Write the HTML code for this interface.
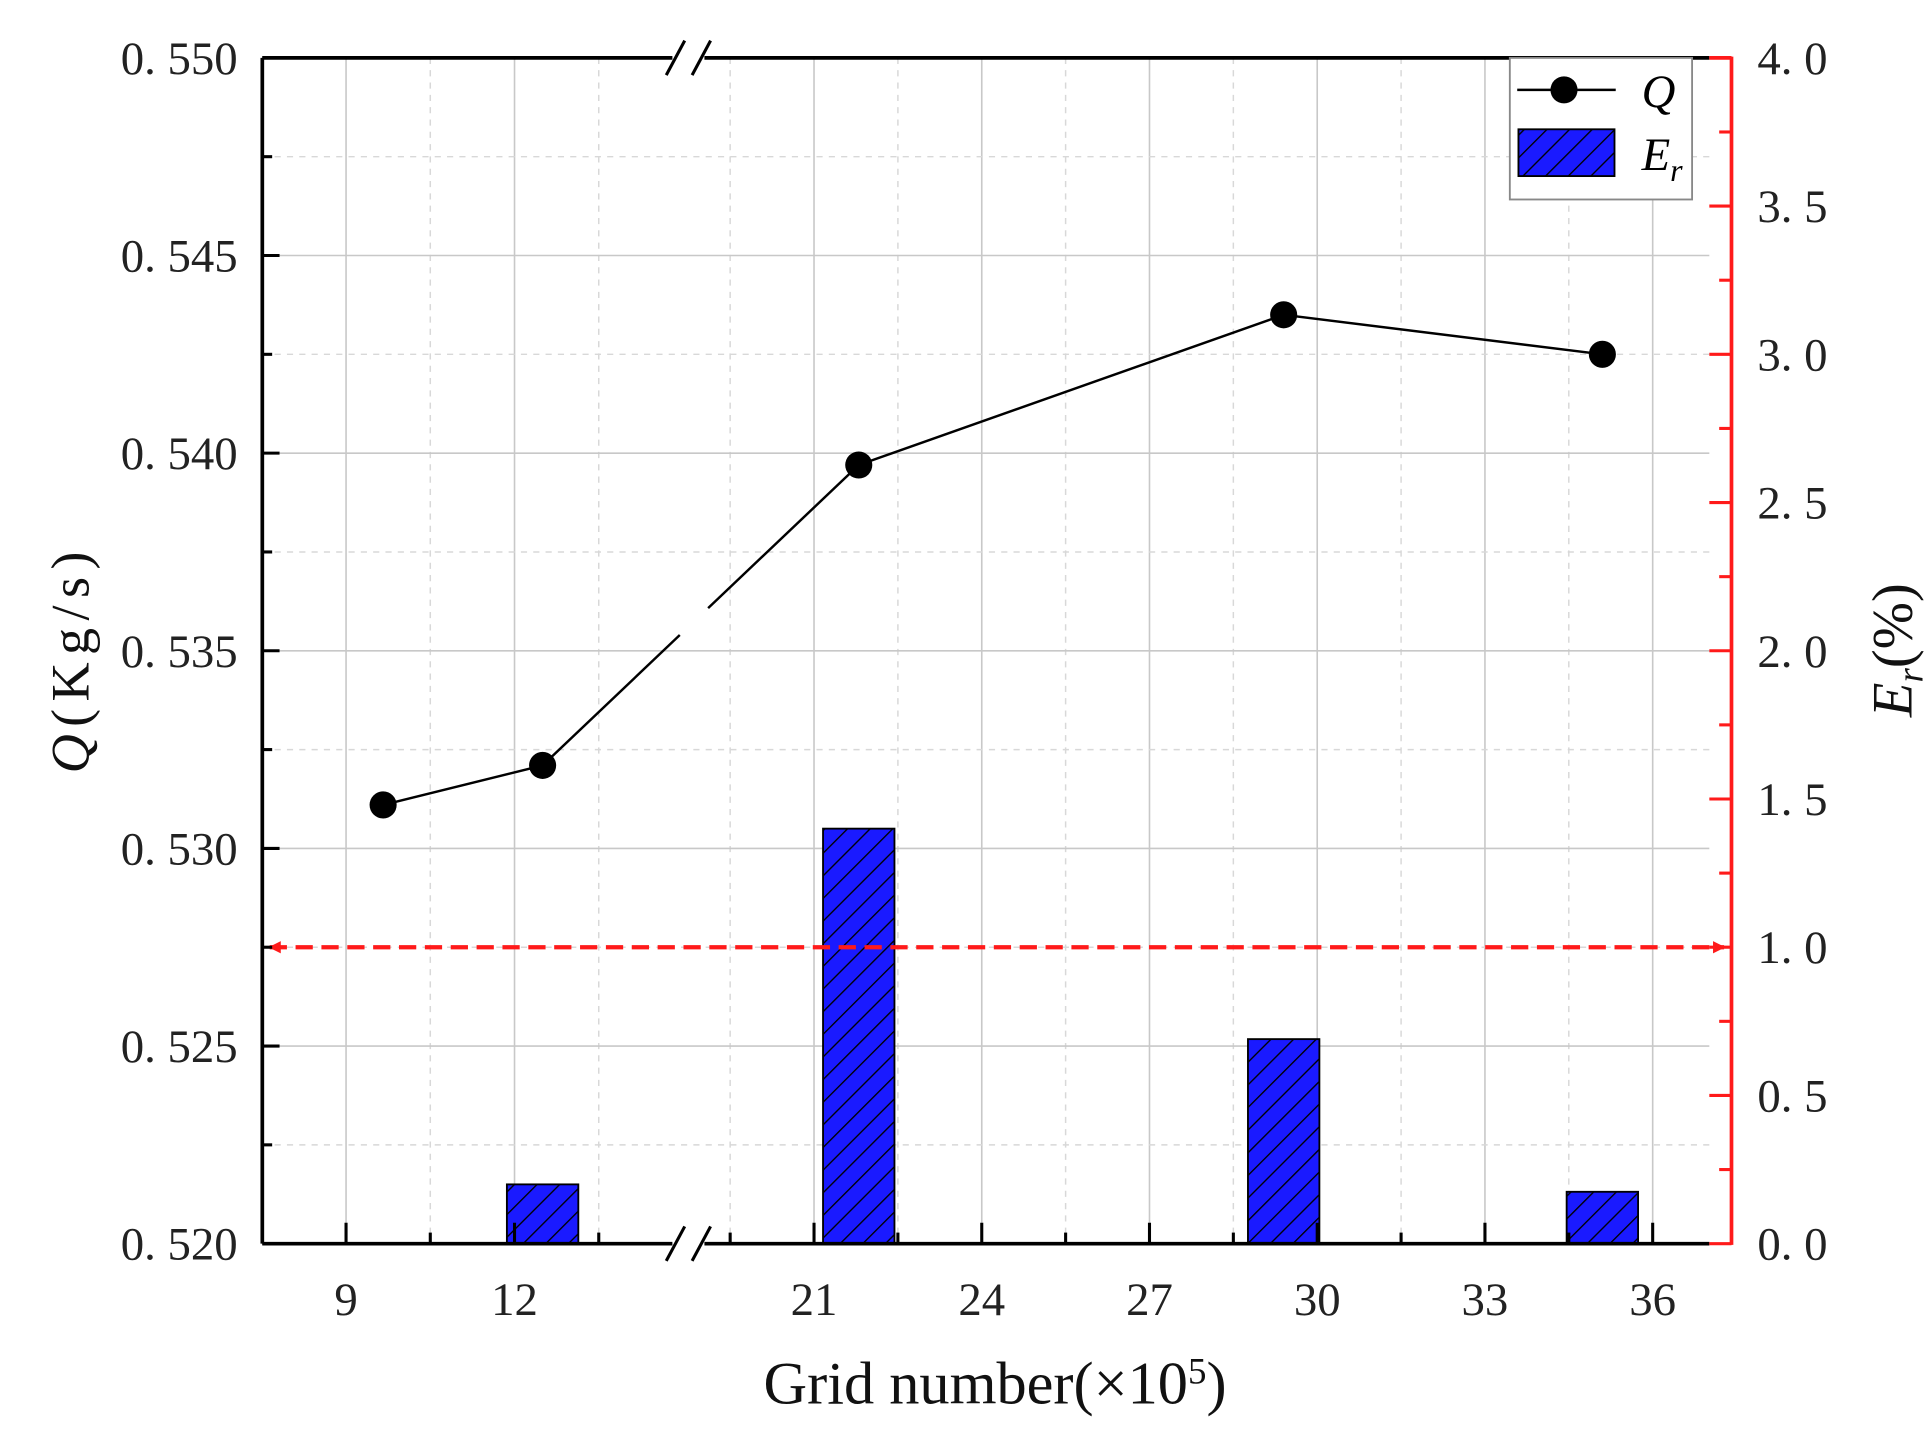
<!DOCTYPE html>
<html><head><meta charset="utf-8"><style>
html,body{margin:0;padding:0;background:#fff;}
body{position:relative;width:1931px;height:1453px;overflow:hidden;}
svg{display:block;}
text{font-family:"Liberation Serif","Noto Serif CJK SC",serif;}
</style></head><body>
<svg id="chart" width="1931" height="1453" viewBox="0 0 1568 1180" preserveAspectRatio="none" xmlns="http://www.w3.org/2000/svg">
<defs>
<pattern id="hatch" patternUnits="userSpaceOnUse" width="13" height="13" patternTransform="rotate(45)">
<rect width="13" height="13" fill="#1a1aff"/><line x1="0" y1="0" x2="0" y2="13" stroke="#000" stroke-width="2.2"/>
</pattern>
<marker id="arrR" markerWidth="10" markerHeight="10" refX="9" refY="5" orient="auto" markerUnits="userSpaceOnUse"><path d="M0,0 L10,5 L0,10 Z" fill="#ff1a1a"/></marker>
<marker id="arrL" markerWidth="10" markerHeight="10" refX="1" refY="5" orient="auto" markerUnits="userSpaceOnUse"><path d="M10,0 L0,5 L10,10 Z" fill="#ff1a1a"/></marker>
</defs>
<g id="grid"></g>
<g id="bars"></g>
<g id="series"></g>
<g id="axes"></g>
</svg>
<script>
const categories = [9.66, 12.5, 21.8, 29.4, 35.1];
const qValues = [0.5311, 0.5321, 0.5397, 0.5435, 0.5425];
const erValues = [null, 0.20, 1.40, 0.69, 0.175];
const xTicks = [9, 12, 21, 24, 27, 30, 33, 36];
const xMinor = [10.5, 13.5, 19.5, 22.5, 25.5, 28.5, 31.5, 34.5];
const qTicks = [0.520, 0.525, 0.530, 0.535, 0.540, 0.545, 0.550];
const erTicks = [0.0, 0.5, 1.0, 1.5, 2.0, 2.5, 3.0, 3.5, 4.0];
const erLimit = 1.0;

const L=213, R=1388, RR=1406, T=47, B=1010;
const NS="http://www.w3.org/2000/svg";
function xs(v){ return v<=16 ? 281+(v-9)*45.6 : 661+(v-21)*45.4; }
function yq(v){ return B-(v-0.520)/0.030*(B-T); }
function ye(v){ return B-v/4*(B-T); }
function mk(tag,attrs,parent,txt){const e=document.createElementNS(NS,tag);for(const k in attrs)e.setAttribute(k,attrs[k]);if(txt!==undefined)e.textContent=txt;parent.appendChild(e);return e;}
const gG=document.getElementById('grid'),gB=document.getElementById('bars'),gS=document.getElementById('series'),gA=document.getElementById('axes');

xTicks.forEach(t=>{const l=mk('line',{x1:xs(t),x2:xs(t),y1:T,y2:B,stroke:'#c8c8c8','stroke-width':1.3},gG);

});
xMinor.forEach(t=>{const l=mk('line',{x1:xs(t),x2:xs(t),y1:T,y2:B,stroke:'#d8d8d8','stroke-width':1.2,'stroke-dasharray':'5,5'},gG);

});
qTicks.forEach((t,i)=>{const y=yq(t);const l=mk('line',{x1:L,x2:R,y1:y,y2:y,stroke:'#c8c8c8','stroke-width':1.3},gG);


if(i<qTicks.length-1){const ym=yq(t+0.0025);const m=mk('line',{x1:L,x2:R,y1:ym,y2:ym,stroke:'#d8d8d8','stroke-width':1.2,'stroke-dasharray':'5,5'},gG);

}});

const bw=58;
categories.forEach((c,i)=>{if(erValues[i]==null)return;const y=ye(erValues[i]);
const r=mk('rect',{x:xs(c)-bw/2,y:y,width:bw,height:B-y,fill:'url(#hatch)',stroke:'#000','stroke-width':1.5},gB);

});

const lim=mk('line',{x1:L+6,x2:RR-6,y1:ye(erLimit),y2:ye(erLimit),stroke:'#ff1a1a','stroke-width':3.5,'stroke-dasharray':'14,7','marker-start':'url(#arrL)','marker-end':'url(#arrR)'},gB);



// Q line with gap at axis break
const gx0=552, gx1=575;
for(let i=0;i<categories.length-1;i++){
  const x1=xs(categories[i]),y1=yq(qValues[i]),x2=xs(categories[i+1]),y2=yq(qValues[i+1]);
  if(x1<gx0 && x2>gx1){
    const ya=y1+(y2-y1)*(gx0-x1)/(x2-x1), yb=y1+(y2-y1)*(gx1-x1)/(x2-x1);
    const a=mk('line',{x1:x1,y1:y1,x2:gx0,y2:ya,stroke:'#000','stroke-width':2},gS);
    
    
    const b=mk('line',{x1:gx1,y1:yb,x2:x2,y2:y2,stroke:'#000','stroke-width':2},gS);
    
    
  } else {
    const s=mk('line',{x1:x1,y1:y1,x2:x2,y2:y2,stroke:'#000','stroke-width':2},gS);
    
    
  }
}
categories.forEach((c,i)=>{const p=mk('circle',{cx:xs(c),cy:yq(qValues[i]),r:11,fill:'#000'},gS);

});

mk('line',{x1:L,x2:R,y1:T,y2:T,stroke:'#000','stroke-width':3},gA);
mk('line',{x1:R,x2:RR,y1:T,y2:T,stroke:'#ff1a1a','stroke-width':3},gA);
mk('line',{x1:L,x2:R,y1:B,y2:B,stroke:'#000','stroke-width':3},gA);
mk('line',{x1:L,x2:L,y1:T,y2:B,stroke:'#000','stroke-width':3},gA);
mk('line',{x1:RR,x2:RR,y1:T-1,y2:B+1,stroke:'#ff1a1a','stroke-width':3},gA);
[T,B].forEach(y=>{mk('rect',{x:546,y:y-3,width:26,height:6,fill:'#fff'},gA);
mk('line',{x1:541,y1:y+14,x2:556,y2:y-14,stroke:'#000','stroke-width':2.5},gA);
mk('line',{x1:562,y1:y+14,x2:577,y2:y-14,stroke:'#000','stroke-width':2.5},gA);});

xTicks.forEach(t=>{mk('line',{x1:xs(t),x2:xs(t),y1:B,y2:B-17,stroke:'#000','stroke-width':2.5},gA);
const tx=mk('text',{x:xs(t),y:B+58,'font-size':38,'text-anchor':'middle',fill:'#222'},gA,String(t));

});
xMinor.forEach(t=>{mk('line',{x1:xs(t),x2:xs(t),y1:B,y2:B-9,stroke:'#000','stroke-width':2.5},gA);});
qTicks.forEach((t,i)=>{const y=yq(t);mk('line',{x1:L,x2:L+14,y1:y,y2:y,stroke:'#000','stroke-width':2.5},gA);
if(i<qTicks.length-1){const ym=yq(t+0.0025);mk('line',{x1:L,x2:L+8,y1:ym,y2:ym,stroke:'#000','stroke-width':2.5},gA);}
const tx=mk('text',{x:193,y:y+13,'font-size':38,'text-anchor':'end',fill:'#222'},gA,t.toFixed(3).replace('.','. '));

});
erTicks.forEach((t,i)=>{const y=ye(t);mk('line',{x1:RR-18,x2:RR,y1:y,y2:y,stroke:'#ff1a1a','stroke-width':2.5},gA);
if(i<erTicks.length-1){const ym=ye(t+0.25);mk('line',{x1:RR-10,x2:RR,y1:ym,y2:ym,stroke:'#ff1a1a','stroke-width':2.5},gA);}
const tx=mk('text',{x:1427,y:y+13,'font-size':38,fill:'#222'},gA,t.toFixed(1).replace('.','. '));

});
</script>
<svg style="position:absolute;left:0;top:0" width="1931" height="1453" viewBox="0 0 1568 1180" preserveAspectRatio="none" xmlns="http://www.w3.org/2000/svg">
<text x="808" y="1140" font-size="49" text-anchor="middle" fill="#111" font-family="Liberation Serif, serif">Grid number(×10<tspan baseline-shift="super" font-size="30">5</tspan>)</text>
<text transform="translate(72,535) rotate(-90)" font-size="44" letter-spacing="6" text-anchor="middle" fill="#111" font-family="Liberation Serif, serif"><tspan font-style="italic">Q</tspan>(Kg/s)</text>
<text transform="translate(1552,528) rotate(-90)" font-size="46" text-anchor="middle" fill="#111" font-family="Liberation Serif, serif"><tspan font-style="italic">E</tspan><tspan font-style="italic" font-size="30" dy="9">r</tspan><tspan dy="-9">(%)</tspan></text>
<g>
<rect x="1226" y="47" width="148" height="115" fill="#fff" stroke="#888" stroke-width="1.5"/>
<line x1="1232" y1="73" x2="1312" y2="73" stroke="#000" stroke-width="2"/>
<circle cx="1270" cy="73" r="11" fill="#000"/>
<text x="1333" y="87" font-size="38" font-style="italic" font-family="Liberation Serif, serif">Q</text>
<rect x="1233" y="105" width="78" height="38" fill="url(#hatch)" stroke="#000" stroke-width="1.5"/>
<text x="1333" y="138" font-size="38" font-style="italic" font-family="Liberation Serif, serif">E<tspan font-size="26" dy="9">r</tspan></text>
</g>
</svg>
</body></html>
